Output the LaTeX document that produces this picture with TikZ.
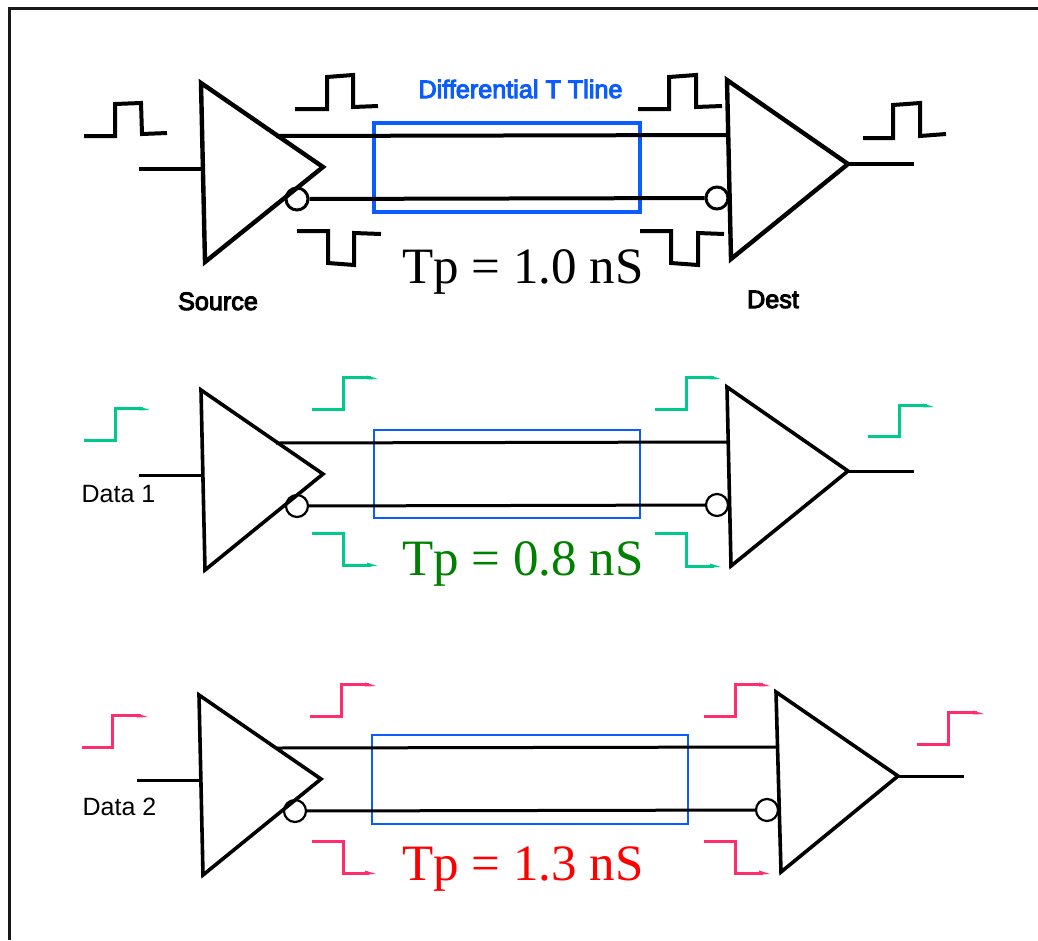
\documentclass[tikz,border=0pt]{standalone}
\usepackage{fontspec}
\setmainfont{Liberation Serif}
\newfontfamily\labelfont{Liberation Sans}
\newfontfamily\boldlabel[FakeBold=4]{Liberation Sans}
\definecolor{tblue}{HTML}{0A5CFF}
\definecolor{stepgreen}{HTML}{00C98E}
\definecolor{steppink}{HTML}{FF2D6C}
\definecolor{tpgreen}{HTML}{008000}
\newcommand{\stepwave}[5]{% colour, four corners run, last = tip
  \draw[wave, #1] #2 -- #3 -- #4 -- #5;}
\newcommand{\risetip}[3]{% colour, tip x, tip y : small barb that ends a rising or falling step
  \fill[#1] (#2-11,#3-3.5) -- (#2,#3) -- (#2-11,#3+0.5) -- cycle;}
\tikzset{
  x=1pt,y=-1pt,
  gate/.style={draw=black,line join=miter,fill=none},
  bubble/.style={circle,draw=black,fill=white,minimum size=22pt,inner sep=0pt},
  wire/.style={draw=black,line cap=butt},
  tline/.style={draw=tblue},
  wave/.style={line width=3pt,line join=miter},
  tpwave/.style={line width=4pt,black,line join=miter},
  tp/.style={font=\fontsize{51}{52}\selectfont,anchor=base,inner sep=0pt},
  lab/.style={font=\labelfont\fontsize{25}{26}\selectfont,anchor=base,inner sep=0pt},
  blab/.style={font=\boldlabel\fontsize{25.2}{26}\selectfont,anchor=base,inner sep=0pt},
}
\begin{document}
\begin{tikzpicture}
\useasboundingbox (0,0) rectangle (1038,940);
\fill[white] (0,0) rectangle (1038,940);
\draw[line width=3pt,black!90] (9,940) -- (9,8) -- (1038,8);

% ---------- top row
\coordinate (a1) at (201,83); \coordinate (b1) at (323,167); \coordinate (c1) at (205,262);
\coordinate (d1) at (727,80); \coordinate (e1) at (848,164); \coordinate (f1) at (731,259);
\coordinate (inA) at (139,169); \coordinate (inB) at (204,169);
\coordinate (topA) at (276,136); \coordinate (topB) at (727,135);
\coordinate (outA) at (914,164);
\node[tp] (tp1) at (523,283) {Tp = 1.0 nS};
\draw[tline,line width=3.1pt] (374,123) rectangle (640,212);
\node[bubble,line width=3pt] (s1) at (297,199) {};
\node[bubble,line width=3pt] (r1) at (717,198) {};
\draw[wire,line width=4pt] (s1) -- (r1);
\draw[wire,line width=4pt] (topA) -- (topB);
\draw[wire,line width=4pt] (inA) -- (inB);
\draw[wire,line width=4pt] (e1) -- (outA);
\draw[gate,line width=4.4pt] (a1) -- (b1) -- (c1) -- cycle;
\draw[gate,line width=4.4pt] (d1) -- (e1) -- (f1) -- cycle;
\draw[tpwave] (84,136) -- (115,136) -- (115,104) -- (141,103) -- (142,134) -- (167,133);
\draw[tpwave] (295,109) -- (327,109) -- (327,77) -- (353,75) -- (353,107) -- (378,106);
\draw[tpwave] (297,231) -- (328,231) -- (328,263) -- (354,265) -- (354,233) -- (381,234);
\draw[tpwave] (638,109) -- (669,109) -- (669,77) -- (696,75) -- (696,107) -- (722,106);
\draw[tpwave] (640,231) -- (671,231) -- (671,263) -- (698,265) -- (698,233) -- (724,234);
\draw[tpwave] (863,138) -- (893,138) -- (893,105) -- (920,103) -- (920,136) -- (946,134);
\node[blab] (src) at (218,310) {Source};
\node[blab] (dst) at (773,308) {Dest};
\node[blab,text=tblue] (dtl) at (520.5,98) {Differential T Tline};

% ---------- middle row
\coordinate (a2) at (201,390); \coordinate (b2) at (323,474); \coordinate (c2) at (205,570);
\coordinate (d2) at (727,387); \coordinate (e2) at (848,471); \coordinate (f2) at (731,566);
\coordinate (inC) at (139,475); \coordinate (inD) at (204,475);
\coordinate (topC) at (276,443); \coordinate (topD) at (727,442);
\coordinate (outB) at (914,471);
\node[tp,text=tpgreen] (tp2) at (523,575) {Tp = 0.8 nS};
\draw[tline,line width=2pt] (374,430) rectangle (640,518);
\node[bubble,line width=2.2pt] (s2) at (297,506) {};
\node[bubble,line width=2.2pt] (r2) at (717,505) {};
\draw[wire,line width=3pt] (s2) -- (r2);
\draw[wire,line width=3pt] (topC) -- (topD);
\draw[wire,line width=3pt] (inC) -- (inD);
\draw[wire,line width=3pt] (e2) -- (outB);
\draw[gate,line width=3.6pt] (a2) -- (b2) -- (c2) -- cycle;
\draw[gate,line width=3.6pt] (d2) -- (e2) -- (f2) -- cycle;
\stepwave{stepgreen}{(84,440)}{(115,440)}{(115,408)}{(143,408)} \risetip{stepgreen}{150}{410}
\stepwave{stepgreen}{(312,409)}{(343,409)}{(343,377)}{(371,377)} \risetip{stepgreen}{378}{379}
\stepwave{stepgreen}{(312,533)}{(343,533)}{(343,565)}{(371,565)} \risetip{stepgreen}{378}{566}
\stepwave{stepgreen}{(655,409)}{(686,409)}{(686,377)}{(714,377)} \risetip{stepgreen}{721}{379}
\stepwave{stepgreen}{(655,533)}{(686,533)}{(686,566)}{(714,566)} \risetip{stepgreen}{721}{567}
\stepwave{stepgreen}{(868,436)}{(899,436)}{(899,405)}{(927,405)} \risetip{stepgreen}{934}{407}
\node[lab] (d1lab) at (118.5,502) {Data 1};

% ---------- bottom row
\coordinate (a3) at (199,695); \coordinate (b3) at (321,779); \coordinate (c3) at (203,875);
\coordinate (d3) at (776,692); \coordinate (e3) at (898,776); \coordinate (f3) at (781,872);
\coordinate (inE) at (137,780); \coordinate (inF) at (202,780);
\coordinate (topE) at (276,748); \coordinate (topF) at (777,747);
\coordinate (outC) at (964,776);
\node[tp,text=red] (tp3) at (523,880) {Tp = 1.3 nS};
\draw[tline,line width=2pt] (372,735) rectangle (688,824);
\node[bubble,line width=2.2pt] (s3) at (295,811) {};
\node[bubble,line width=2.2pt] (r3) at (767,810) {};
\draw[wire,line width=3pt] (s3) -- (r3);
\draw[wire,line width=3pt] (topE) -- (topF);
\draw[wire,line width=3pt] (inE) -- (inF);
\draw[wire,line width=3pt] (e3) -- (outC);
\draw[gate,line width=3.6pt] (a3) -- (b3) -- (c3) -- cycle;
\draw[gate,line width=3.6pt] (d3) -- (e3) -- (f3) -- cycle;
\stepwave{steppink}{(82,747)}{(112,747)}{(112,715)}{(141,715)} \risetip{steppink}{148}{717}
\stepwave{steppink}{(310,716)}{(341,716)}{(341,684)}{(369,684)} \risetip{steppink}{376}{686}
\stepwave{steppink}{(312,841)}{(343,841)}{(343,873)}{(369,873)} \risetip{steppink}{376}{874}
\stepwave{steppink}{(704,716)}{(735,716)}{(735,684)}{(763,684)} \risetip{steppink}{770}{686}
\stepwave{steppink}{(704,841)}{(735,841)}{(735,873)}{(763,873)} \risetip{steppink}{770}{874}
\stepwave{steppink}{(917,744)}{(948,744)}{(948,712)}{(977,712)} \risetip{steppink}{984}{714}
\node[lab] (d2lab) at (119.5,815) {Data 2};
\end{tikzpicture}
\end{document}
